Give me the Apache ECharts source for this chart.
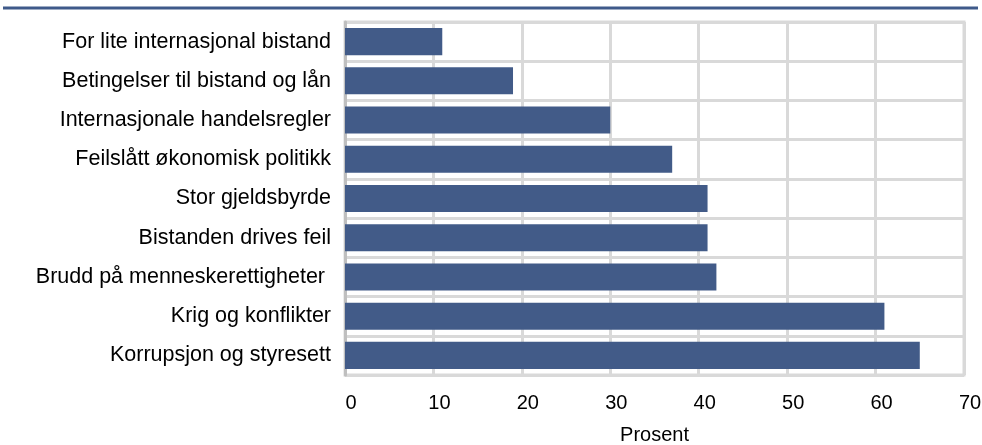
<!DOCTYPE html>
<html>
<head>
<meta charset="utf-8">
<script src="https://cdn.jsdelivr.net/npm/echarts@6/dist/echarts.min.js"></script>
<style>html,body{margin:0;padding:0;background:#fff}#c{width:982px;height:445px}</style>
</head>
<body>
<div id="c"></div>
<script>
const categories = [
  "For lite internasjonal bistand",
  "Betingelser til bistand og lån",
  "Internasjonale handelsregler",
  "Feilslått økonomisk politikk",
  "Stor gjeldsbyrde",
  "Bistanden drives feil",
  "Brudd på menneskerettigheter ",
  "Krig og konflikter",
  "Korrupsjon og styresett"
];
const values = [11, 19, 30, 37, 41, 41, 42, 61, 65];
const axisName = "Prosent";

const chart = echarts.init(document.getElementById('c'), null, {renderer: 'canvas'});
chart.setOption({
  animation: false,
  textStyle: {fontFamily: 'Liberation Sans, Arial, sans-serif'},
  graphic: [{
    type: 'line', shape: {x1: 3, y1: 8, x2: 978, y2: 8},
    style: {stroke: '#3f5a8a', lineWidth: 3}
  }],
  grid: {left: 345, right: 18, top: 22, bottom: 70, containLabel: false, outerBoundsMode: 'none',
         show: true, borderColor: '#d9d9d9', borderWidth: 3},
  xAxis: {
    type: 'value', min: 0, max: 70, interval: 10,
    name: axisName, nameLocation: 'middle', nameGap: 50,
    nameTextStyle: {fontSize: 20, color: '#000'},
    axisLine: {show: false}, axisTick: {show: false},
    axisLabel: {fontSize: 20, color: '#000', margin: 18, padding: [0, 0, 0, 12]},
    splitLine: {show: true, lineStyle: {color: '#d9d9d9', width: 3}}
  },
  yAxis: {
    type: 'category', data: categories, inverse: true,
    axisLine: {show: true, lineStyle: {color: '#bfbfbf', width: 3}},
    axisTick: {show: false},
    axisLabel: {fontSize: 21.5, color: '#000', margin: 14},
    splitLine: {show: true, lineStyle: {color: '#d9d9d9', width: 3}}
  },
  series: [{
    type: 'bar', data: values, barCategoryGap: '31%',
    itemStyle: {color: '#425b88'}
  }]
});
</script>
</body>
</html>
